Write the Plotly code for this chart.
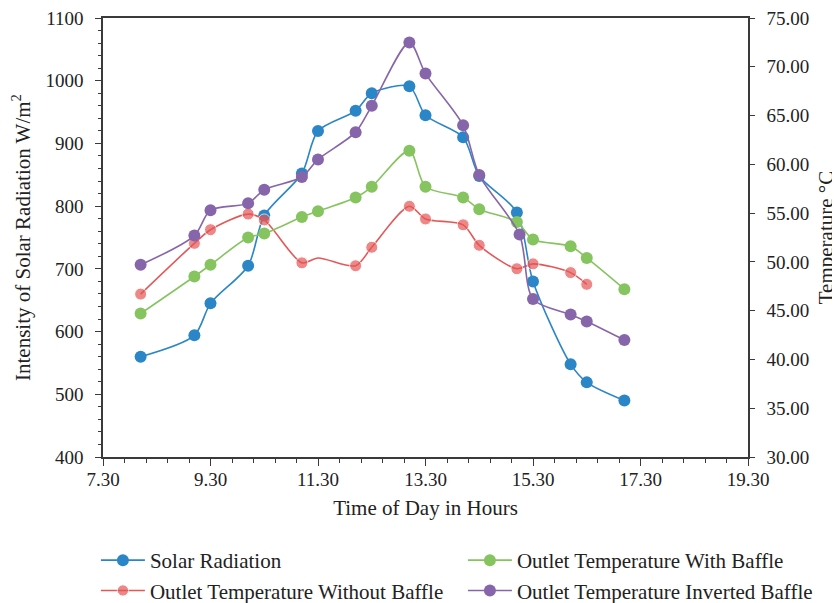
import plotly.graph_objects as go

# ---- data ----
hours = [8.0, 9.0, 9.3, 10.0, 10.3, 11.0, 11.3, 12.0, 12.3, 13.0, 13.3, 14.0, 14.3, 15.0, 15.3, 16.0, 16.3, 17.0]
solar_radiation = [560, 594, 645, 705, 785, 852, 920, 952, 980, 991, 945, 910, 848, 790, 680, 548, 519, 490]

hours_without = [8.0, 9.0, 9.3, 10.0, 10.3, 11.0, 11.3, 12.0, 12.3, 13.0, 13.3, 14.0, 14.3, 15.0, 15.3, 16.0, 16.3]
temp_without_baffle = [46.7, 51.9, 53.3, 54.9, 54.3, 49.9, 50.4, 49.6, 51.5, 55.7, 54.4, 53.8, 51.7, 49.3, 49.8, 48.9, 47.7]
without_marker_shown = [1, 1, 1, 1, 1, 1, 0, 1, 1, 1, 1, 1, 1, 1, 1, 1, 1]

temp_with_baffle = [44.7, 48.5, 49.7, 52.5, 52.9, 54.6, 55.2, 56.6, 57.7, 61.4, 57.7, 56.6, 55.4, 54.1, 52.3, 51.6, 50.4, 47.2]

hours_inverted = [8.0, 9.0, 9.3, 10.0, 10.3, 11.0, 11.3, 12.0, 12.3, 13.0, 13.3, 14.0, 14.3, 15.05, 15.3, 16.0, 16.3, 17.0]
temp_inverted_baffle = [49.7, 52.7, 55.3, 56.0, 57.4, 58.7, 60.5, 63.3, 66.0, 72.5, 69.3, 64.0, 58.9, 52.8, 46.2, 44.6, 43.9, 42.0]

x_tick_vals = [7.3, 9.3, 11.3, 13.3, 15.3, 17.3, 19.3]
x_tick_text = ["7.30", "9.30", "11.30", "13.30", "15.30", "17.30", "19.30"]

BLUE = "#2A86C6"
RED = "#E45756"
GREEN = "#86C460"
PURPLE = "#8765AA"
AX = "#3a3a3a"
FONT = "Liberation Serif"
MS = 12

fig = go.Figure()

fig.add_trace(go.Scatter(
    x=hours, y=solar_radiation, name="Solar Radiation",
    mode="lines+markers", line=dict(color=BLUE, width=1.6, shape="spline", smoothing=0.8),
    marker=dict(color=BLUE, size=MS), yaxis="y", legend="legend", legendgroup="a"))

fig.add_trace(go.Scatter(
    x=hours_without, y=temp_without_baffle, name="Outlet Temperature Without Baffle",
    mode="lines+markers", line=dict(color=RED, width=1.6, shape="spline", smoothing=0.8),
    marker=dict(color=RED, size=[MS * s for s in without_marker_shown]),
    yaxis="y2", legend="legend", legendgroup="b"))

fig.add_trace(go.Scatter(
    x=hours, y=temp_with_baffle, name="Outlet Temperature With Baffle",
    mode="lines+markers", line=dict(color=GREEN, width=1.6, shape="spline", smoothing=0.8),
    marker=dict(color=GREEN, size=MS), yaxis="y2", legend="legend2", legendgroup="c"))

fig.add_trace(go.Scatter(
    x=hours_inverted, y=temp_inverted_baffle, name="Outlet Temperature Inverted Baffle",
    mode="lines+markers", line=dict(color=PURPLE, width=1.6, shape="spline", smoothing=0.8),
    marker=dict(color=PURPLE, size=MS), yaxis="y2", legend="legend2", legendgroup="d"))

# page body has an 8px margin, so the figure is 832x595 and drawn at (8, 8)
# plot area (figure coords): x 95..740, y 10..449  (645 x 439 px)
legend_top = -83 / 439.0

fig.update_layout(
    width=832, height=595,
    margin=dict(l=95, r=92, t=10, b=146, autoexpand=False),
    paper_bgcolor="white", plot_bgcolor="white",
    font=dict(family=FONT, size=21, color="#222222"),
    xaxis=dict(
        range=[7.3, 19.3], tickmode="array", tickvals=x_tick_vals, ticktext=x_tick_text,
        showline=True, linecolor=AX, linewidth=1.5, mirror=True,
        ticks="outside", ticklen=7, tickwidth=1.3, tickcolor=AX,
        minor=dict(dtick=0.4, ticks="outside", ticklen=4, tickwidth=1.1, tickcolor=AX, tick0=7.3),
        showgrid=False, zeroline=False, tickfont=dict(size=19),
        ticklabelstandoff=-3, automargin=False, ticklabeloverflow="allow",
        title=dict(text="Time of Day in Hours", standoff=12, font=dict(size=21)),
    ),
    yaxis=dict(
        range=[400, 1100], dtick=100, showline=True, linecolor=AX, linewidth=1.5,
        ticks="outside", ticklen=6, tickwidth=1.3, tickcolor=AX,
        minor=dict(dtick=20, ticks="outside", ticklen=3.5, tickwidth=1.1, tickcolor=AX),
        showgrid=False, zeroline=False, tickfont=dict(size=19),
        ticklabelstandoff=8, automargin=False, ticklabeloverflow="allow",
        title=dict(text="Intensity of Solar Radiation W/m<sup>2</sup>", standoff=11, font=dict(size=21)),
    ),
    yaxis2=dict(
        range=[30, 75], dtick=5, tickformat=".2f", overlaying="y", side="right",
        showline=True, linecolor=AX, linewidth=1.5,
        ticks="outside", ticklen=5, tickwidth=1.3, tickcolor=AX,
        showgrid=False, zeroline=False, tickfont=dict(size=19),
        ticklabelstandoff=8, automargin=False, ticklabeloverflow="allow",
        title=dict(text="Temperature °C", standoff=10, font=dict(size=21)),
    ),
    legend=dict(x=-0.011, y=legend_top, xanchor="left", yanchor="top", orientation="v",
                traceorder="grouped", tracegroupgap=0, font=dict(size=21), itemwidth=44,
                bgcolor="rgba(0,0,0,0)"),
    legend2=dict(x=0.558, y=legend_top, xanchor="left", yanchor="top", orientation="v",
                 traceorder="grouped", tracegroupgap=0, font=dict(size=21), itemwidth=44,
                 bgcolor="rgba(0,0,0,0)"),
)

fig.write_html("out.html")
